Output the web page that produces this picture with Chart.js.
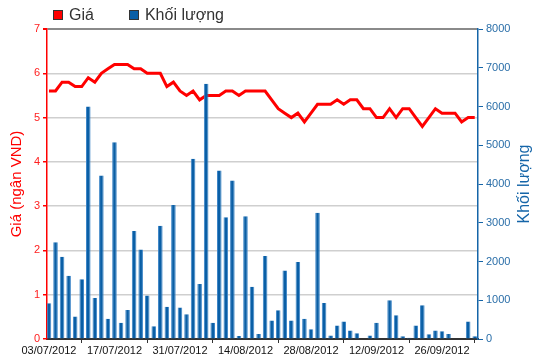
<!DOCTYPE html>
<html>
<head>
<meta charset="utf-8">
<script src="https://cdn.jsdelivr.net/npm/chart.js@4/dist/chart.umd.min.js"></script>
<style>
body{margin:0;background:#fff;}
#wrap{position:relative;width:550px;height:364px;}
#legend{position:absolute;left:53px;top:6px;font:16px "Liberation Sans",Arial,sans-serif;color:#333;display:flex;}
#legend span{display:inline-flex;align-items:center;margin-right:35px;}
#legend i{display:inline-block;width:8px;height:8px;border:1px solid #333;margin-right:6px;}
</style>
</head>
<body>
<div id="wrap">
  <canvas id="c" width="550" height="364"></canvas>
  <div id="legend"><span><i style="background:#ff0000"></i>Giá</span><span><i style="background:#0a5fa6"></i>Khối lượng</span></div>
</div>
<script>
const dates = ['03/07/2012','04/07/2012','05/07/2012','06/07/2012','09/07/2012','10/07/2012','11/07/2012','12/07/2012','13/07/2012','16/07/2012',
  '17/07/2012','18/07/2012','19/07/2012','20/07/2012','23/07/2012','24/07/2012','25/07/2012','26/07/2012','27/07/2012','30/07/2012',
  '31/07/2012','01/08/2012','02/08/2012','03/08/2012','06/08/2012','07/08/2012','08/08/2012','09/08/2012','10/08/2012','13/08/2012',
  '14/08/2012','15/08/2012','16/08/2012','17/08/2012','20/08/2012','21/08/2012','22/08/2012','23/08/2012','24/08/2012','27/08/2012',
  '28/08/2012','29/08/2012','30/08/2012','31/08/2012','04/09/2012','05/09/2012','06/09/2012','07/09/2012','10/09/2012','11/09/2012',
  '12/09/2012','13/09/2012','14/09/2012','17/09/2012','18/09/2012','19/09/2012','20/09/2012','21/09/2012','24/09/2012','25/09/2012',
  '26/09/2012','27/09/2012','28/09/2012','01/10/2012','02/10/2012','03/10/2012'];

const price = [5.6,5.6,5.8,5.8,5.7,5.7,5.9,5.8,6.0,6.1,
  6.2,6.2,6.2,6.1,6.1,6.0,6.0,6.0,5.7,5.8,
  5.6,5.5,5.6,5.4,5.5,5.5,5.5,5.6,5.6,5.5,
  5.6,5.6,5.6,5.6,5.4,5.2,5.1,5.0,5.1,4.9,
  5.1,5.3,5.3,5.3,5.4,5.3,5.4,5.4,5.2,5.2,
  5.0,5.0,5.2,5.0,5.2,5.2,5.0,4.8,5.0,5.2,
  5.1,5.1,5.1,4.9,5.0,5.0];

const volume = [920,2500,2120,1630,580,1540,6000,1060,4220,520,
  5080,420,750,2790,2310,1120,330,2920,830,3460,
  810,640,4650,1420,6590,420,4350,3140,4090,80,
  3170,1350,130,2140,480,740,1770,480,1990,520,
  250,3260,930,90,350,450,220,150,0,90,
  420,0,1000,610,70,35,350,870,120,220,
  200,130,0,0,450,70];

const dateTicks = [0,10,20,30,40,50,60];
const priceTicks = [0,1,2,3,4,5,6,7];
const volumeTicks = [0,1000,2000,3000,4000,5000,6000,7000,8000];

const font = {family:'"Liberation Sans", Arial, sans-serif', size:11};

// right title reads bottom-to-top like the left one
const rightTitle = {
  id:'rightTitle',
  afterDraw(chart){
    const ctx = chart.ctx, a = chart.chartArea;
    ctx.save();
    ctx.translate(525, (a.top + a.bottom)/2);
    ctx.rotate(-Math.PI/2);
    ctx.fillStyle = '#1565a8';
    ctx.font = '16px "Liberation Sans", Arial, sans-serif';
    ctx.textAlign = 'center';
    ctx.textBaseline = 'middle';
    ctx.fillText('Khối lượng', 0, 0);
    ctx.restore();
  }
};

new Chart(document.getElementById('c'), {
  data:{
    datasets:[
      {type:'bar',label:'Khối lượng',data:volume.map((v,i)=>({x:i,y:v})),yAxisID:'yv',backgroundColor:'#0a5fa6',borderColor:'#3f87c8',borderWidth:{left:1,right:1},barPercentage:0.7,categoryPercentage:1,order:0},
      {type:'line',label:'Giá',data:price.map((v,i)=>({x:i,y:v})),yAxisID:'yp',borderColor:'#ff0000',borderWidth:3,pointRadius:0,tension:0,order:1}
    ]
  },
  options:{
    responsive:false,
    animation:false,
    devicePixelRatio:1,
    layout:{padding:{top:29,left:0,right:0,bottom:0}},
    plugins:{legend:{display:false},tooltip:{enabled:false}},
    scales:{
      x:{
        type:'linear',min:-0.3,max:65.5,offset:false,
        afterBuildTicks:s=>{s.ticks=dateTicks.map(v=>({value:v}));},
        grid:{drawOnChartArea:false,tickLength:4,tickColor:'#333'},
        border:{color:'#333',width:2},
        ticks:{autoSkip:false,maxRotation:0,color:'#111',font:{family:font.family,size:11},padding:1,
          callback:v=>dates[v]},
        afterFit:s=>{s.height=25;}
      },
      yp:{
        position:'left',min:0,max:7,
        afterBuildTicks:s=>{s.ticks=priceTicks.map(v=>({value:v}));},
        grid:{color:c=>c.tick&&c.tick.value===7?'#8a8a8a':'#cfcfcf',lineWidth:c=>c.tick&&c.tick.value===7?2:1.5,tickColor:'#ff0000',tickLength:4},
        border:{color:'#ff0000',width:1.5},
        ticks:{color:'#ff2020',font,padding:3},
        title:{display:true,text:'Giá (ngân VND)',color:'#ff0000',font:{family:font.family,size:15},padding:{top:8,bottom:0}},
        afterFit:s=>{s.width=47;}
      },
      yv:{
        position:'right',min:0,max:8000,
        afterBuildTicks:s=>{s.ticks=volumeTicks.map(v=>({value:v}));},
        grid:{drawOnChartArea:false,tickColor:'#1565a8',tickLength:5},
        border:{color:'#1565a8',width:1.5},
        ticks:{color:'#2a6ea8',font,padding:3,callback:v=>String(v)},
        afterFit:s=>{s.width=72;}
      }
    }
  },
  plugins:[rightTitle]
});
</script>
</body>
</html>
